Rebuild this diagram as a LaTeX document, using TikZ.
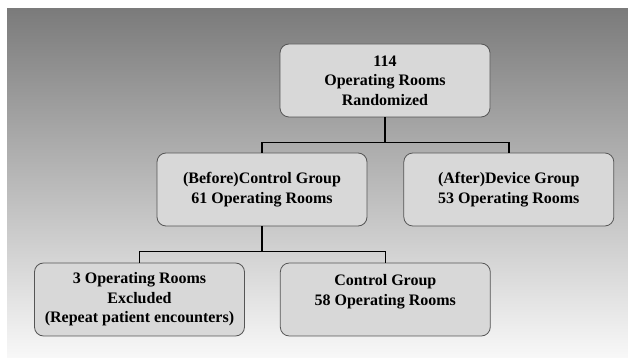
\documentclass[tikz,border=0pt]{standalone}
\usepackage{fontspec}
\setmainfont{Liberation Serif}
\usetikzlibrary{positioning,shadings}
\tikzset{>=latex}
\definecolor{bgtop}{HTML}{7B7B7B}
\definecolor{bgbottom}{HTML}{F8F8F8}
\definecolor{boxfill}{HTML}{D8D8D8}
\definecolor{boxline}{HTML}{555555}
\begin{document}
\begin{tikzpicture}[x=1pt, y=1pt, node distance=36pt,
	font=\fontsize{16}{19.5}\selectfont\bfseries,
	group/.style={draw=boxline, line width=0.8pt, fill=boxfill, rounded corners=9pt, minimum width=210pt, minimum height=73pt, align=center, inner sep=0pt},
	link/.style={line width=1.5pt, black}]
	\useasboundingbox (0,0) rectangle (628,358);
	\shade[top color=bgtop, bottom color=bgbottom] (7,0) rectangle (628,349);

	\node[group] (rand) at (385,277.5) {114\\Operating Rooms\\Randomized};
	\node[group] (before) at (262,168.5) {(Before)Control Group\\61 Operating Rooms};
	\node[group, right=of before] (after) {(After)Device Group\\53 Operating Rooms};
	\node[group] (excluded) at (139.5,58.5) {3 Operating Rooms\\Excluded\\(Repeat patient encounters)};
	\node[group, right=35pt of excluded] (control) {Control Group\\58 Operating Rooms\\\mbox{}};

	% tree connectors
	\coordinate (split1) at ([yshift=-25pt]rand.south);
	\coordinate (split2) at ([yshift=-25pt]before.south);
	\draw[link] (rand.south) -- (split1) -| (before.north);
	\draw[link] (split1) -| (after.north);
	\draw[link] (before.south) -- (split2) -| (excluded.north);
	\draw[link] (split2) -| (control.north);
\end{tikzpicture}
\end{document}
